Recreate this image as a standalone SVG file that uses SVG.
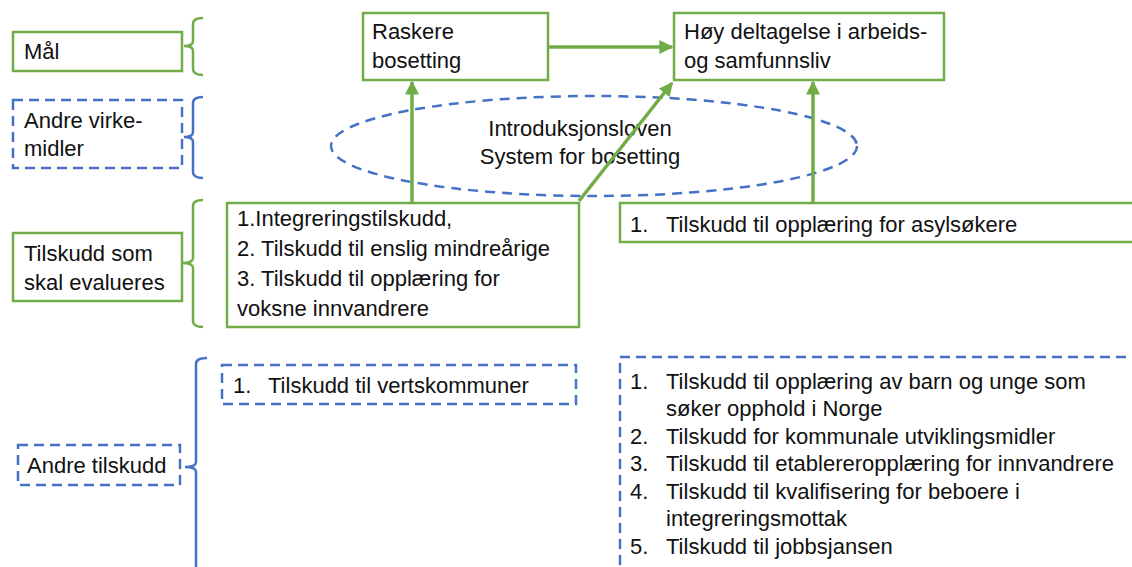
<svg xmlns="http://www.w3.org/2000/svg" width="1132" height="567" viewBox="0 0 1132 567">
<style>
text{font-family:"Liberation Sans",Arial,sans-serif;font-size:22px;fill:#111;}
.g{fill:#fff;stroke:#70AD47;stroke-width:2.5;}
.b{fill:#fff;stroke:#4472C4;stroke-width:2.5;stroke-dasharray:10,6;}
.gb{fill:none;stroke:#70AD47;stroke-width:2.5;}
.bb{fill:none;stroke:#4472C4;stroke-width:2.5;}
.arr{fill:none;stroke:#70AD47;stroke-width:3.5;marker-end:url(#ah);}
</style>
<defs>
<marker id="ah" viewBox="0 0 10 10" refX="9" refY="5" markerWidth="4" markerHeight="4" orient="auto" markerUnits="strokeWidth">
<path d="M0,0 L10,5 L0,10 z" fill="#70AD47"/>
</marker>
</defs>
<rect width="1132" height="567" fill="#fff"/>

<g id="mal">
<rect class="g" x="13" y="32" width="169" height="39"/>
<text x="24" y="59">Mål</text>
<path class="gb" d="M203,18 Q193,18 193,24 V41 Q193,46 184,46 Q193,46 193,51 V69 Q193,75 203,75"/>
</g>

<g id="andre-virkemidler">
<rect class="b" x="13" y="100" width="169" height="68"/>
<text x="24" y="128">Andre virke-</text>
<text x="24" y="156">midler</text>
<path class="bb" d="M203,97 Q193,97 193,103 V132 Q193,137 184,137 Q193,137 193,142 V172 Q193,178 203,178"/>
</g>

<g id="ellipse">
<ellipse cx="594" cy="146" rx="263" ry="50" fill="none" stroke="#4472C4" stroke-width="2.5" stroke-dasharray="10,7"/>
<text x="580" y="136" text-anchor="middle">Introduksjonsloven</text>
<text x="580" y="164" text-anchor="middle">System for bosetting</text>
</g>

<g id="raskere">
<rect class="g" x="363" y="13" width="185" height="67"/>
<text x="372" y="39">Raskere</text>
<text x="372" y="68">bosetting</text>
</g>

<g id="hoy">
<rect class="g" x="674" y="13" width="270" height="67"/>
<text x="684" y="39">Høy deltagelse i arbeids-</text>
<text x="684" y="68">og samfunnsliv</text>
</g>

<g id="tilskudd-evalueres">
<rect class="g" x="13" y="233" width="169" height="68"/>
<text x="24" y="261">Tilskudd som</text>
<text x="24" y="290">skal evalueres</text>
<path class="gb" d="M203,200 Q193,200 193,206 V258 Q193,263 182,263 Q193,263 193,268 V321 Q193,327 203,327"/>
</g>

<g id="tilskudd-liste">
<rect class="g" x="227" y="203" width="352" height="124"/>
<text x="237" y="226">1.Integreringstilskudd,</text>
<text x="237" y="256">2. Tilskudd til enslig mindreårige</text>
<text x="237" y="286">3. Tilskudd til opplæring for</text>
<text x="237" y="316">voksne innvandrere</text>
</g>

<g id="asylsokere">
<rect class="g" x="620" y="203" width="530" height="39"/>
<text x="630" y="232">1.</text>
<text x="666" y="232">Tilskudd til opplæring for asylsøkere</text>
</g>

<g id="andre-tilskudd">
<rect class="b" x="18" y="445" width="162" height="40"/>
<text x="27" y="473">Andre tilskudd</text>
<path class="bb" d="M207,358 Q196,358 196,364 V462 Q196,467 185,467 Q196,467 196,472 V580"/>
</g>

<g id="vertskommuner">
<rect class="b" x="222" y="365" width="354" height="39"/>
<text x="233" y="393">1.</text>
<text x="268" y="393">Tilskudd til vertskommuner</text>
</g>

<g id="andre-liste">
<rect class="b" x="620" y="357" width="530" height="230"/>
<text x="630" y="389">1.</text>
<text x="666" y="389">Tilskudd til opplæring av barn og unge som</text>
<text x="666" y="416">søker opphold i Norge</text>
<text x="630" y="444">2.</text>
<text x="666" y="444">Tilskudd for kommunale utviklingsmidler</text>
<text x="630" y="471">3.</text>
<text x="666" y="471">Tilskudd til etablereropplæring for innvandrere</text>
<text x="630" y="499">4.</text>
<text x="666" y="499">Tilskudd til kvalifisering for beboere i</text>
<text x="666" y="526">integreringsmottak</text>
<text x="630" y="554">5.</text>
<text x="666" y="554">Tilskudd til jobbsjansen</text>
</g>

<g id="connectors">
<line class="arr" x1="549" y1="47" x2="672" y2="47"/>
<line class="arr" x1="412" y1="202" x2="412" y2="82"/>
<line class="arr" x1="579" y1="201" x2="672" y2="83"/>
<line class="arr" x1="813" y1="202" x2="813" y2="82"/>
</g>
</svg>
